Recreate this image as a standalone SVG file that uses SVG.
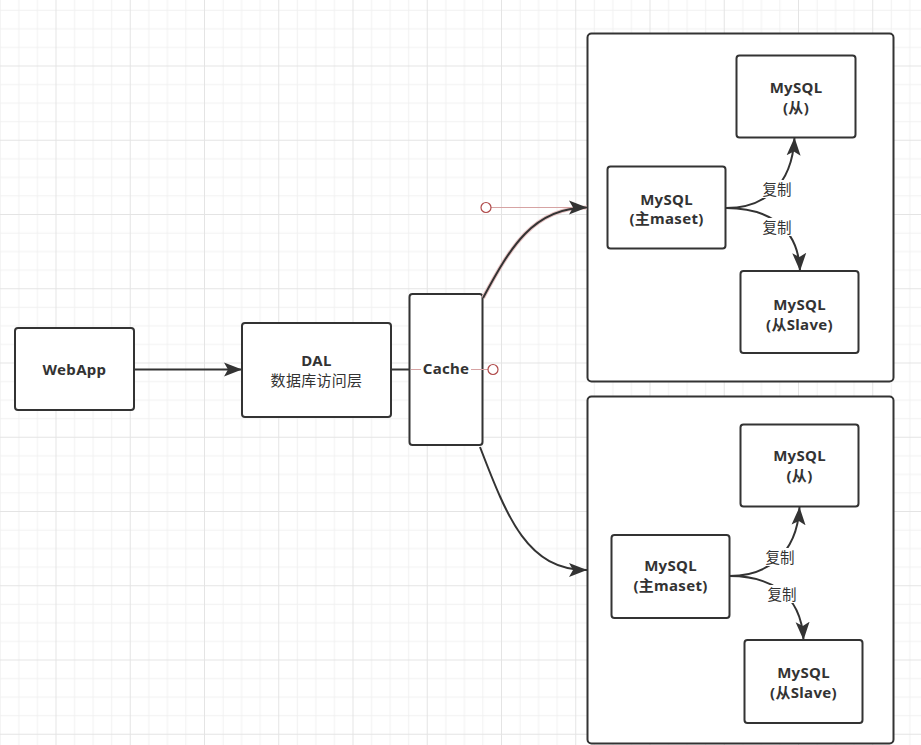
<svg xmlns="http://www.w3.org/2000/svg" width="921" height="745" viewBox="0 0 921 745">
<defs>
<style>
.node{fill:#ffffff;stroke:#333333;stroke-width:2}
.t{font-family:"Noto Sans","Noto Sans CJK SC",sans-serif;font-size:15px;font-weight:bold;fill:#333333;text-anchor:middle;letter-spacing:0.3px}
.cn{font-family:"Noto Sans CJK SC","Noto Sans",sans-serif;font-size:15px;fill:#333333;text-anchor:middle;letter-spacing:0.3px}
.lbl{font-family:"Noto Sans CJK SC","Noto Sans",sans-serif;font-size:14.5px;fill:#333333;text-anchor:middle}
.edge{fill:none;stroke:#333333;stroke-width:2}
.sel{fill:none;stroke:#d6a3a3;stroke-width:1}
.handle{fill:#ffffff;stroke:#b04a4a;stroke-width:1.2}
</style>
<pattern id="grid" x="55.5" y="65.5" width="74.25" height="74.25" patternUnits="userSpaceOnUse">
<path d="M19.06,0V74.25M37.62,0V74.25M56.19,0V74.25M0,19.06H74.25M0,37.62H74.25M0,56.19H74.25" stroke="#f1f1f1" stroke-width="1" fill="none"/>
<path d="M0.5,0V74.25M0,0.5H74.25" stroke="#e4e4e4" stroke-width="1" fill="none"/>
</pattern>
<marker id="arr" markerUnits="userSpaceOnUse" markerWidth="19" markerHeight="15" refX="18" refY="7.5" orient="auto" viewBox="0 0 19 15">
<path d="M0,0.5 L18,7.5 L0,14.5 L4,7.5 Z" fill="#333333"/>
</marker>
</defs>
<rect width="921" height="745" fill="#ffffff"/>
<rect width="921" height="745" fill="url(#grid)"/>

<g id="container-top"><rect class="node" x="587.5" y="33.5" width="306" height="348" rx="4"/></g>
<g id="container-bottom"><rect class="node" x="587.5" y="396.5" width="306" height="347" rx="4"/></g>

<g id="webapp"><rect class="node" x="15" y="328" width="119" height="82" rx="3"/><text class="t" x="74.5" y="375">WebApp</text></g>
<g id="dal"><rect class="node" x="242" y="323" width="149" height="94" rx="3"/><text class="t" x="316.5" y="366">DAL</text><text class="cn" x="316.5" y="386">数据库访问层</text></g>
<g id="cache"><rect class="node" x="409.5" y="294" width="73" height="151" rx="3"/><text class="t" x="446" y="374">Cache</text></g>

<g id="top-master"><rect class="node" x="607.5" y="166.5" width="118" height="82" rx="3"/><text class="t" x="666.5" y="205">MySQL</text><text class="t" x="666.5" y="224">(主maset)</text></g>
<g id="top-slave1"><rect class="node" x="736.5" y="55.5" width="119" height="82" rx="3"/><text class="t" x="796" y="93">MySQL</text><text class="t" x="796" y="113">(从)</text></g>
<g id="top-slave2"><rect class="node" x="740.5" y="271" width="118" height="82" rx="3"/><text class="t" x="799.5" y="310">MySQL</text><text class="t" x="799.5" y="330">(从Slave)</text></g>

<g id="bot-master"><rect class="node" x="611.5" y="535" width="118" height="83" rx="3"/><text class="t" x="670.5" y="571">MySQL</text><text class="t" x="670.5" y="591">(主maset)</text></g>
<g id="bot-slave1"><rect class="node" x="740.5" y="424.5" width="118" height="82" rx="3"/><text class="t" x="799.5" y="461">MySQL</text><text class="t" x="799.5" y="481">(从)</text></g>
<g id="bot-slave2"><rect class="node" x="744.5" y="640" width="118" height="83" rx="3"/><text class="t" x="803.5" y="678">MySQL</text><text class="t" x="803.5" y="698">(从Slave)</text></g>

<g id="connectors">
<path class="edge" d="M134,369.5 H242" marker-end="url(#arr)"/>
<path class="edge" d="M391,369.5 H409" stroke-width="2.5"/>
<path d="M483,298 C510,248 533,207.5 587,207.5" fill="none" stroke="#e8c4c4" stroke-width="4"/>
<path class="edge" d="M483,298 C510,248 533,207.5 587,207.5" marker-end="url(#arr)"/>
<path class="edge" d="M480,447 C508,520 528,570 587,570" marker-end="url(#arr)"/>

<path class="edge" d="M726,208 C762,208 792,188 794.5,137.5" marker-end="url(#arr)"/>
<path class="edge" d="M726,208 C762,208 798,222 800,271" marker-end="url(#arr)"/>
<path class="edge" d="M729.5,576 C765,576 797,556 799.5,507" marker-end="url(#arr)"/>
<path class="edge" d="M729.5,576 C765,576 801,590 803.5,640" marker-end="url(#arr)"/>

<rect x="760" y="180" width="34" height="18" fill="#ffffff"/><text class="lbl" x="777" y="194.5">复制</text>
<rect x="760" y="218" width="34" height="18" fill="#ffffff"/><text class="lbl" x="777" y="232.5">复制</text>
<rect x="763" y="548" width="34" height="18" fill="#ffffff"/><text class="lbl" x="780" y="562.5">复制</text>
<rect x="765" y="585" width="34" height="18" fill="#ffffff"/><text class="lbl" x="782" y="599.5">复制</text>
</g>

<g id="selection">
<path class="sel" d="M491,207.5 H572"/>
<circle class="handle" cx="486" cy="207.5" r="5"/>
<path class="sel" d="M411,369.5 H421 M471,369.5 H488"/>
<circle class="handle" cx="493" cy="369.5" r="5"/>
</g>
</svg>
